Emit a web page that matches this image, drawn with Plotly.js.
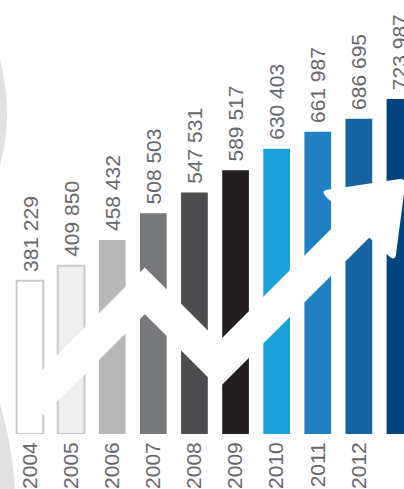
<!DOCTYPE html>
<html>
<head>
<meta charset="utf-8">
<script src="https://cdn.plot.ly/plotly-3.0.1.min.js"></script>
<style>html,body{margin:0;padding:0;background:#fff;}#chart{width:404px;height:489px;}</style>
</head>
<body>
<div id="chart"></div>
<script>
// ---- data ----
const YEARS = ['2004','2005','2006','2007','2008','2009','2010','2011','2012','2013'];
const VALUES = [381229, 409850, 458432, 508503, 547531, 589517, 630403, 661987, 686695, 723987];
const BAR_COLORS = ['#ffffff','#efeff0','#b6b7b9','#77787b','#4d4d4f','#231f20','#1ca1db','#1f81c4','#17639f','#00447f'];
const OUTLINE_COLORS = ['#c8c9cb','#c8c9cb','#b6b7b9','#77787b','#4d4d4f','#231f20','#1ca1db','#1f81c4','#17639f','#00447f'];
const OUTLINE_WIDTHS = [2,2,0,0,0,0,0,0,0,0];
const Y_MIN = 92600;
const Y_MAX = 910500;
// decorative white arrow (category index, value)
const ARROW_X = [0.049, 2.791, 4.591, 8.149];
const ARROW_Y = [150080, 362569, 223109, 498731];
const HEAD_X = [7.054, 8.879, 9.146];
const HEAD_Y = [550558, 416751, 575058];

const idx = YEARS.map((_, i) => i);
const labels = VALUES.map(v => '\u00a0' + String(v).replace(/\B(?=(\d{3})+(?!\d))/g, ' '));

function roundedPath(xs, ys, f) {
  const n = xs.length;
  let d = '';
  for (let i = 0; i < n; i++) {
    const p = (i + n - 1) % n, q = (i + 1) % n;
    const ax = xs[i] + (xs[p] - xs[i]) * f, ay = ys[i] + (ys[p] - ys[i]) * f;
    const bx = xs[i] + (xs[q] - xs[i]) * f, by = ys[i] + (ys[q] - ys[i]) * f;
    d += (i === 0 ? 'M' : 'L') + ax + ',' + ay + ' Q' + xs[i] + ',' + ys[i] + ' ' + bx + ',' + by + ' ';
  }
  return d + 'Z';
}

const TXT = '#68696c';
const FONT = 'Liberation Sans, Arial, sans-serif';

const bars = {
  type: 'bar',
  x: idx,
  y: VALUES.map(v => v - Y_MIN),
  base: Y_MIN,
  width: 0.65,
  marker: { color: BAR_COLORS, line: { color: OUTLINE_COLORS, width: OUTLINE_WIDTHS } },
  text: labels,
  textposition: 'outside',
  textangle: -90,
  constraintext: 'none',
  cliponaxis: false,
  outsidetextfont: { family: FONT, size: 21, color: TXT },
  hoverinfo: 'none'
};

const arrow = {
  type: 'scatter',
  mode: 'lines',
  x: ARROW_X,
  y: ARROW_Y,
  line: { color: '#ffffff', width: 33 },
  hoverinfo: 'none'
};

const layout = {
  width: 404,
  height: 489,
  margin: { l: 0, r: 0, t: 0, b: 55, pad: 0 },
  paper_bgcolor: '#ffffff',
  plot_bgcolor: 'rgba(0,0,0,0)',
  showlegend: false,
  xaxis: {
    range: [-0.73, 9.098],
    tickvals: idx,
    ticktext: YEARS,
    tickangle: -90,
    ticklabelstandoff: 3,
    tickfont: { family: FONT, size: 21, color: TXT },
    showgrid: false, zeroline: false, showline: false, ticks: '',
    fixedrange: true
  },
  yaxis: {
    range: [Y_MIN, Y_MAX],
    visible: false,
    showgrid: false, zeroline: false,
    fixedrange: true
  },
  shapes: [
    { type: 'circle', xref: 'paper', yref: 'paper', layer: 'below',
      x0: -0.9926, x1: 0.01733, y0: 0.2696, y1: 1.2097,
      fillcolor: '#e2e2e3', line: { width: 0 } },
    { type: 'circle', xref: 'paper', yref: 'paper', layer: 'below',
      x0: -1.9413, x1: 0.03886, y0: -1.106, y1: 0.7373,
      fillcolor: '#e2e2e3', line: { width: 0 } },
    { type: 'path', xref: 'x', yref: 'y', layer: 'above',
      path: roundedPath(HEAD_X, HEAD_Y, 0.09),
      fillcolor: '#ffffff', line: { width: 0 } }
  ]
};

Plotly.newPlot('chart', [bars, arrow], layout, { staticPlot: true, displayModeBar: false });
</script>
</body>
</html>
